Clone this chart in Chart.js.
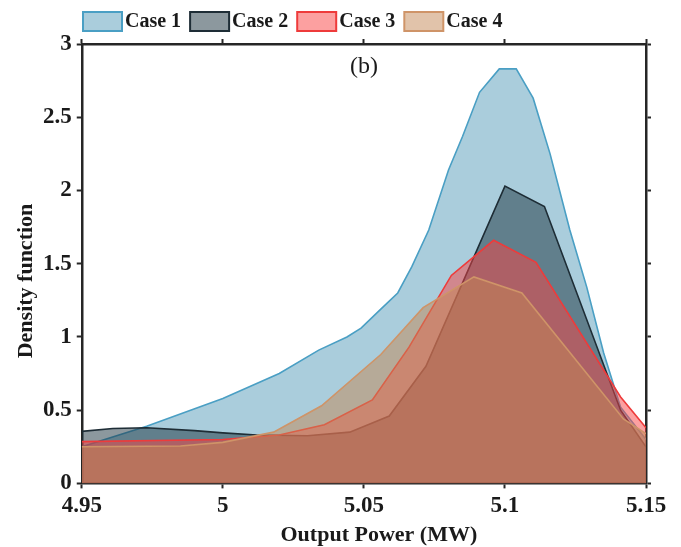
<!DOCTYPE html>
<html>
<head>
<meta charset="utf-8">
<script src="https://cdn.jsdelivr.net/npm/chart.js@4.4.1/dist/chart.umd.min.js"></script>
<style>
  html, body { margin: 0; padding: 0; background: #fff; }
</style>
</head>
<body>
<canvas id="density-chart" width="681" height="547"></canvas>
<script>
// Kernel density estimates of output power (MW) for each case
const case1Power = [4.95, 4.973, 5.0, 5.02, 5.034, 5.044, 5.049, 5.056, 5.062, 5.067, 5.073, 5.08, 5.085, 5.091, 5.098, 5.104, 5.11, 5.116, 5.123, 5.129, 5.135, 5.141, 5.15];
const case1Density = [0.25, 0.39, 0.58, 0.75, 0.91, 1.0, 1.06, 1.19, 1.30, 1.48, 1.73, 2.14, 2.37, 2.67, 2.83, 2.83, 2.63, 2.25, 1.73, 1.34, 0.89, 0.52, 0.30];

const case2Power = [4.95, 4.961, 4.973, 4.99, 5.0, 5.012, 5.03, 5.045, 5.059, 5.072, 5.1, 5.114, 5.141, 5.15];
const case2Density = [0.355, 0.375, 0.38, 0.36, 0.345, 0.33, 0.325, 0.35, 0.46, 0.80, 2.03, 1.89, 0.50, 0.25];

const case3Power = [4.95, 5.0, 5.02, 5.036, 5.053, 5.066, 5.081, 5.096, 5.111, 5.141, 5.15];
const case3Density = [0.285, 0.30, 0.33, 0.40, 0.57, 0.93, 1.42, 1.66, 1.51, 0.59, 0.38];

const case4Power = [4.95, 4.985, 5.0, 5.018, 5.035, 5.056, 5.071, 5.089, 5.106, 5.142, 5.15];
const case4Density = [0.25, 0.255, 0.28, 0.35, 0.53, 0.88, 1.20, 1.41, 1.30, 0.44, 0.34];

const caseLabels = ['Case 1', 'Case 2', 'Case 3', 'Case 4'];
const xTicks = [4.95, 5, 5.05, 5.1, 5.15];
const yTicks = [0, 0.5, 1, 1.5, 2, 2.5, 3];

const fillColors = ['rgba(85, 155, 185, 0.5)', 'rgba(25, 49, 61, 0.5)', 'rgba(249, 65, 65, 0.5)', 'rgba(195, 135, 85, 0.5)'];
const lineColors = ['#4a9fc4', '#1e2d36', '#ee3b3b', '#cf9468'];

const axisColor = '#262626';
const textColor = '#1a1a1a';
const serif = '"Liberation Serif", "Times New Roman", serif';
Chart.defaults.font.family = serif;
Chart.defaults.color = textColor;

function toPoints(xs, ys) {
  return xs.map((x, i) => ({ x: x, y: ys[i] }));
}

const series = [
  toPoints(case1Power, case1Density),
  toPoints(case2Power, case2Density),
  toPoints(case3Power, case3Density),
  toPoints(case4Power, case4Density),
];

// Case 1 is painted first, Case 4 last (on top)
const datasets = series.map((pts, i) => ({
  label: caseLabels[i],
  data: pts,
  fill: 'origin',
  backgroundColor: fillColors[i],
  borderColor: lineColors[i],
  borderWidth: 1.6,
  pointRadius: 0,
  tension: 0,
  order: series.length - i,
}));

const frameGrid = {
  drawOnChartArea: false,
  drawTicks: true,
  tickLength: 5,
  tickWidth: 2,
  tickColor: axisColor,
};
const frameBorder = { display: true, color: axisColor, width: 2.5 };
const tickFont = { size: 23, weight: 'bold' };

function setXTicks(axis) { axis.ticks = xTicks.map(v => ({ value: v })); }
function setYTicks(axis) { axis.ticks = yTicks.map(v => ({ value: v })); }

// Legend row, axis titles and panel tag
const annotations = {
  id: 'annotations',
  afterDraw(chart) {
    const ctx = chart.ctx;
    const area = chart.chartArea;
    ctx.save();
    ctx.textBaseline = 'middle';

    ctx.font = 'bold 20px ' + serif;
    let x = 83;
    chart.data.datasets.forEach(ds => {
      ctx.fillStyle = ds.backgroundColor;
      ctx.fillRect(x, 12, 39, 19);
      ctx.strokeStyle = ds.borderColor;
      ctx.lineWidth = 2;
      ctx.strokeRect(x, 12, 39, 19);
      ctx.fillStyle = textColor;
      ctx.fillText(ds.label, x + 42, 22);
      x += 42 + ctx.measureText(ds.label).width + 9;
    });

    ctx.textAlign = 'center';
    ctx.font = 'bold 22px ' + serif;
    ctx.fillText('Output Power (MW)', (area.left + area.right) / 2 + 15, 535);

    ctx.save();
    ctx.translate(26, 281);
    ctx.rotate(-Math.PI / 2);
    ctx.fillText('Density function', 0, 0);
    ctx.restore();

    ctx.font = '24px ' + serif;
    ctx.fillText('(b)', chart.scales.x.getPixelForValue(5.05), 67);
    ctx.restore();
  }
};

const ctx = document.getElementById('density-chart').getContext('2d');
new Chart(ctx, {
  type: 'line',
  data: { datasets: datasets },
  options: {
    responsive: false,
    animation: false,
    layout: { padding: { left: 38, right: 30, top: 39, bottom: 23 } },
    plugins: {
      legend: { display: false },
      tooltip: { enabled: false },
    },
    scales: {
      x: {
        type: 'linear',
        min: 4.95,
        max: 5.15,
        afterBuildTicks: setXTicks,
        ticks: { font: tickFont, padding: 4, maxRotation: 0, callback: v => String(v) },
        grid: frameGrid,
        border: frameBorder,
      },
      x2: {
        type: 'linear',
        position: 'top',
        min: 4.95,
        max: 5.15,
        afterBuildTicks: setXTicks,
        ticks: { display: false },
        grid: frameGrid,
        border: frameBorder,
      },
      y: {
        min: 0,
        max: 3,
        afterBuildTicks: setYTicks,
        ticks: { font: tickFont, padding: 5, callback: v => String(v) },
        grid: frameGrid,
        border: frameBorder,
      },
      y2: {
        position: 'right',
        min: 0,
        max: 3,
        afterBuildTicks: setYTicks,
        ticks: { display: false },
        grid: frameGrid,
        border: frameBorder,
      },
    },
  },
  plugins: [annotations],
});
</script>
</body>
</html>
